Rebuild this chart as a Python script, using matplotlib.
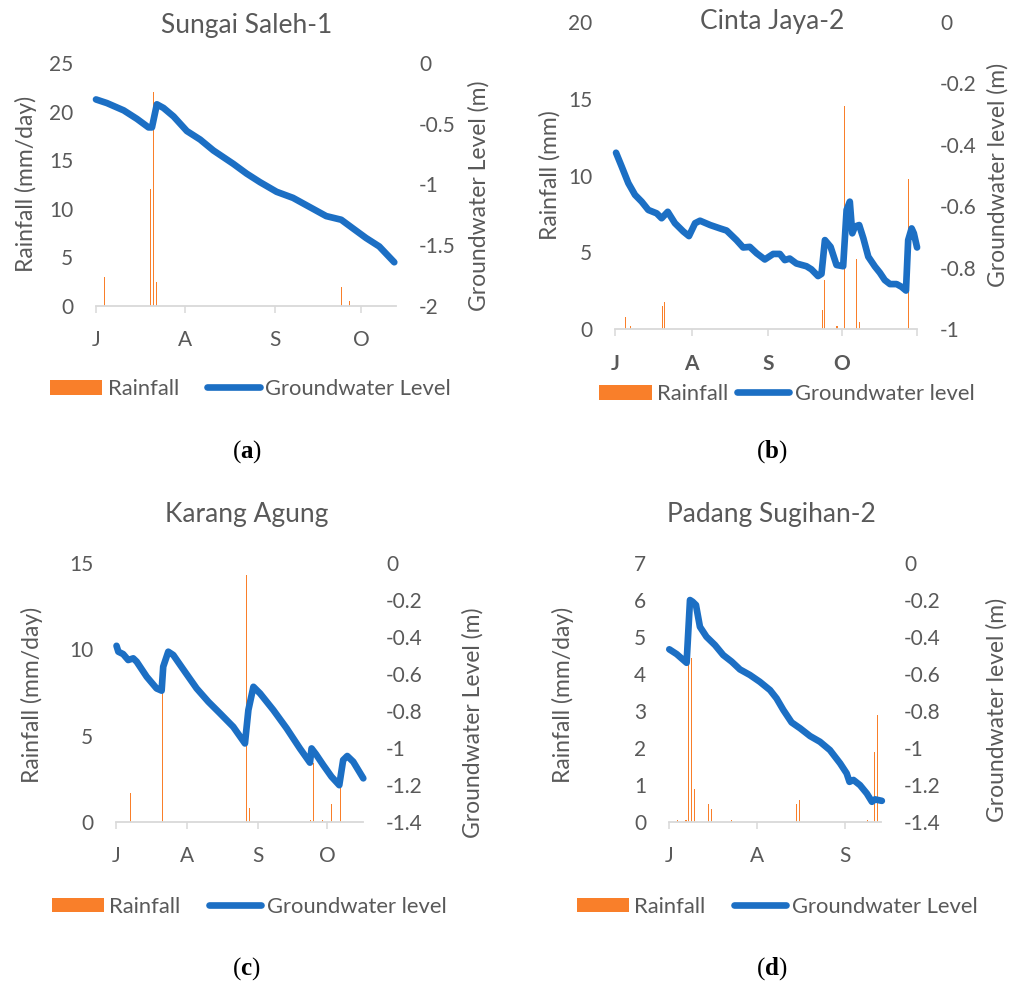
import matplotlib
matplotlib.use('Agg')
import matplotlib.pyplot as plt
from matplotlib.ticker import FuncFormatter, MultipleLocator

W, H = 1021, 986
plt.rcParams['font.family'] = ['Lato', 'DejaVu Sans']
plt.rcParams['mathtext.fontset'] = 'custom'
plt.rcParams['mathtext.rm'] = 'Liberation Serif'
plt.rcParams['mathtext.bf'] = 'Liberation Serif:bold'

TXT = '#595959'
AXC = '#d9d9d9'
ORANGE = '#F97F2A'
BLUE = '#1C6FC4'

month_ticks = [0, 31, 62, 92]
month_labels = ['J', 'A', 'S', 'O']

# ---------------- data (day index from 1 July) ----------------
# (a) Sungai Saleh-1
a_rain_day = [3, 19, 20, 21, 85, 88]
a_rain = [3.0, 12.0, 22.0, 2.5, 2.0, 0.5]
a_gw_day = [0, 3.8, 9.6, 14.2, 18.2, 19.4, 21.1, 23.4, 26.9, 31.5, 36.1, 40.7,
            47.6, 52.2, 56.8, 62.6, 68.3, 75.2, 79.8, 85.0, 89.0, 93.6, 98.2, 103.4]
a_gw = [-0.30, -0.33, -0.39, -0.46, -0.53, -0.53, -0.34, -0.37, -0.44, -0.56, -0.63, -0.72,
        -0.83, -0.91, -0.98, -1.06, -1.11, -1.20, -1.26, -1.29, -1.36, -1.44, -1.51, -1.64]

# (b) Cinta Jaya-2
b_rain_day = [4, 6, 19, 20, 84, 85, 90, 93, 98, 99, 119]
b_rain = [0.78, 0.21, 1.51, 1.78, 1.25, 3.2, 0.2, 14.5, 4.6, 0.5, 9.8]
b_gw_day = [0.3, 2.6, 5.3, 8.0, 10.7, 13.4, 16.8, 18.8, 21.3, 24.2, 27.6, 29.9, 32.4, 34.4,
            38.5, 42.5, 45.2, 49.2, 51.9, 54.6, 57.4, 60.7, 64.1, 66.8, 68.8, 70.8, 73.5,
            77.6, 79.6, 82.3, 83.7, 85.1, 87.4, 89.8, 92.5, 93.9, 95.2, 96.2, 97.3, 99.0,
            100.7, 102.7, 105.4, 107.4, 109.4, 111.5, 114.2, 116.2, 118.0, 118.9, 120.3,
            121.2, 122.5]
b_gw = [-0.426, -0.471, -0.525, -0.563, -0.585, -0.612, -0.623, -0.639, -0.618, -0.655,
        -0.682, -0.697, -0.655, -0.647, -0.661, -0.672, -0.679, -0.710, -0.734, -0.732,
        -0.753, -0.773, -0.755, -0.755, -0.775, -0.770, -0.786, -0.795, -0.805, -0.827,
        -0.820, -0.710, -0.732, -0.791, -0.795, -0.612, -0.585, -0.688, -0.666, -0.661,
        -0.704, -0.764, -0.796, -0.816, -0.840, -0.853, -0.853, -0.862, -0.874, -0.710,
        -0.672, -0.688, -0.734]

# (c) Karang Agung
c_rain_day = [6, 20, 57, 58, 85, 86, 90, 94, 98]
c_rain = [1.65, 7.6, 14.3, 0.8, 0.1, 3.4, 0.1, 1.03, 2.0]
c_gw_day = [0.1, 0.9, 3.0, 5.2, 7.4, 8.9, 13.3, 17.6, 19.8, 20.5, 22.7, 24.9, 30.0, 35.1,
            40.2, 45.3, 51.1, 56.2, 57.7, 59.9, 62.8, 68.6, 74.4, 80.2, 84.6, 85.3, 87.2,
            90.4, 94.0, 97.4, 99.1, 100.9, 103.5, 105.7, 107.9]
c_gw = [-0.447, -0.479, -0.492, -0.524, -0.515, -0.533, -0.615, -0.678, -0.690, -0.560,
        -0.479, -0.497, -0.588, -0.678, -0.750, -0.813, -0.886, -0.976, -0.795, -0.669,
        -0.705, -0.795, -0.894, -1.003, -1.080, -1.003, -1.034, -1.093, -1.156, -1.202,
        -1.066, -1.044, -1.075, -1.120, -1.165]

# (d) Padang Sugihan-2
d_rain_day = [3, 6, 7, 8, 9, 14, 15, 22, 45, 46, 70, 72.5, 73.5]
d_rain = [0.05, 0.05, 6.05, 4.43, 0.88, 0.48, 0.34, 0.05, 0.48, 0.59, 0.05, 1.9, 2.89]
d_gw_day = [0.1, 2.7, 6.2, 7.4, 8.3, 9.5, 10.9, 13.2, 16.2, 19.1, 22.1, 25.0, 28.5, 32.0,
            35.6, 37.9, 40.3, 43.2, 46.2, 49.7, 53.2, 56.7, 60.3, 62.6, 63.6, 65.0, 67.3,
            69.7, 71.5, 72.6, 75.0]
d_gw = [-0.466, -0.492, -0.539, -0.199, -0.208, -0.226, -0.344, -0.398, -0.443, -0.497,
        -0.533, -0.575, -0.605, -0.642, -0.687, -0.732, -0.795, -0.862, -0.894, -0.936,
        -0.967, -1.012, -1.084, -1.138, -1.184, -1.174, -1.202, -1.247, -1.292, -1.279,
        -1.287]

fig = plt.figure(figsize=(W / 100, H / 100), dpi=100)


def fx(x):
    return x / W


def fy(y):
    return 1 - y / H


def num_fmt(v, pos):
    v = round(v, 4)
    if abs(v) < 1e-9:
        return '0'
    return ('%g' % v).replace('\u2212', '-')


def panel(box, xmax, rain_day, rain, gw_day, gw, lmax, lstep, rmin, rstep,
          title, title_xy, ylab, ylab_xy, rlab, rlab_xy, leg_xy, gw_name, colsp,
          bold_x, end_tick, caption, cap_xy, bar_w):
    x0, y0, x1, y1 = box
    ax = fig.add_axes([fx(x0), fy(y1), (x1 - x0) / W, (y1 - y0) / H])
    ax.bar(rain_day, rain, width=bar_w, color=ORANGE, linewidth=0, label='Rainfall')
    ax.set_xlim(0, xmax)
    ax.set_ylim(0, lmax)
    ax.yaxis.set_major_locator(MultipleLocator(lstep))
    ax.yaxis.set_major_formatter(FuncFormatter(num_fmt))
    n = len([t for t in month_ticks if t <= xmax])
    ax.set_xticks(month_ticks[:n])
    ax.set_xticklabels(month_labels[:n], fontweight='bold' if bold_x else 'normal')
    if end_tick:
        ax.set_xticks([xmax], minor=True)
    for s in ['left', 'right', 'top']:
        ax.spines[s].set_visible(False)
    ax.spines['bottom'].set_color(AXC)
    ax.spines['bottom'].set_linewidth(1.3)
    ax.tick_params(axis='x', which='both', direction='out', length=5, width=1.1,
                   color=AXC, labelcolor=TXT, labelsize=15, pad=12.5)
    ax.tick_params(axis='y', length=0, pad=16.5, labelcolor=TXT, labelsize=15)
    ax.patch.set_alpha(0)

    ax2 = ax.twinx()
    ax2.plot(gw_day, gw, color=BLUE, lw=4.8, solid_capstyle='round',
             solid_joinstyle='round', label=gw_name, clip_on=False)
    ax2.set_ylim(rmin, 0)
    ax2.yaxis.set_major_locator(MultipleLocator(rstep))
    ax2.yaxis.set_major_formatter(FuncFormatter(num_fmt))
    ax2.tick_params(axis='y', length=0, pad=16.5, labelcolor=TXT, labelsize=15)
    for s in ax2.spines.values():
        s.set_visible(False)

    fig.text(fx(title_xy[0]), fy(title_xy[1]), title, ha='center', va='baseline',
             fontsize=19, color=TXT)
    fig.text(fx(ylab_xy[0]), fy(ylab_xy[1]), ylab, ha='center', va='center',
             rotation=90, fontsize=16.5, color=TXT)
    fig.text(fx(rlab_xy[0]), fy(rlab_xy[1]), rlab, ha='center', va='center',
             rotation=90, fontsize=16.5, color=TXT)

    h1, l1 = ax.get_legend_handles_labels()
    h2, l2 = ax2.get_legend_handles_labels()
    leg = fig.legend(h1 + h2, l1 + l2, loc='center left',
                     bbox_to_anchor=(fx(leg_xy[0]), fy(leg_xy[1])),
                     bbox_transform=fig.transFigure, ncol=2, frameon=False,
                     fontsize=15.8, handlelength=2.38, handletextpad=0.25,
                     columnspacing=colsp, borderpad=0, borderaxespad=0,
                     handleheight=0.65)
    for t in leg.get_texts():
        t.set_color(TXT)

    fig.text(fx(cap_xy[0]), fy(cap_xy[1]), '(' + r'$\mathbf{' + caption + '}$' + ')',
             ha='center', va='center', fontsize=18, color='black',
             family='Liberation Serif')
    return ax, ax2


panel((96, 63, 396, 306), 104, a_rain_day, a_rain, a_gw_day, a_gw, 25, 5, -2, 0.5,
      'Sungai Saleh-1', (246.7, 33.3), 'Rainfall (mm/day)', (26, 184),
      'Groundwater Level (m)', (479, 196), (50, 389), 'Groundwater Level', 1.3,
      False, False, 'a', (246.7, 451.7), 0.4)

panel((615.3, 21.7, 917.3, 329.3), 122.6, b_rain_day, b_rain, b_gw_day, b_gw, 20, 5, -1, 0.2,
      'Cinta Jaya-2', (771.7, 29.3), 'Rainfall (mm)', (550, 175),
      'Groundwater level (m)', (998, 175), (599.3, 394), 'Groundwater level', 0.4,
      True, True, 'b', (771.7, 451.7), 0.45)

panel((116.3, 563.3, 363.3, 821.7), 107.9, c_rain_day, c_rain, c_gw_day, c_gw, 15, 5, -1.4, 0.2,
      'Karang Agung', (246.7, 521.7), 'Rainfall (mm/day)', (31.7, 695),
      'Groundwater Level (m)', (473, 723), (51.7, 906.7), 'Groundwater level', 1.3,
      False, False, 'c', (246.7, 968.3), 0.45)

panel((669, 563.3, 881, 821.7), 74.7, d_rain_day, d_rain, d_gw_day, d_gw, 7, 1, -1.4, 0.2,
      'Padang Sugihan-2', (771.7, 521.7), 'Rainfall (mm/day)', (563, 695),
      'Groundwater level (m)', (997, 710), (576.7, 906.7), 'Groundwater Level', 1.3,
      False, False, 'd', (771.7, 968.3), 0.4)

fig.savefig('out.png', dpi=100)
